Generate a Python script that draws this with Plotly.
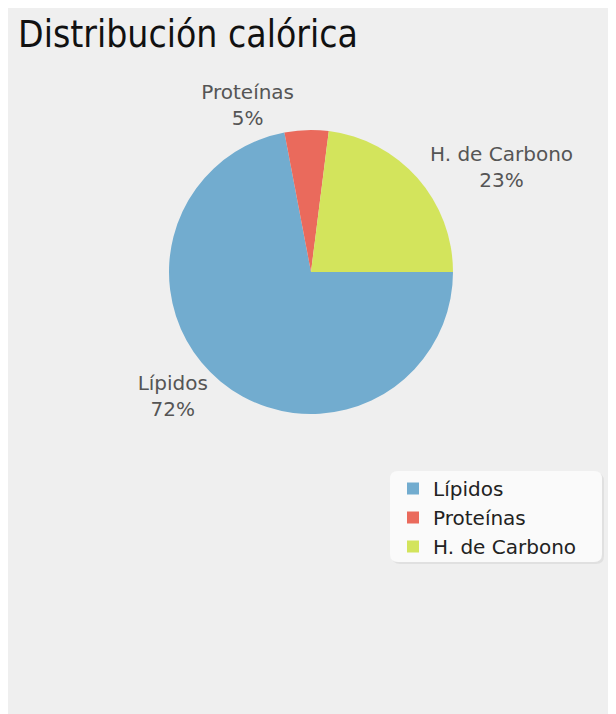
import plotly.graph_objects as go

labels = ["Lípidos", "Proteínas", "H. de Carbono"]
values = [72, 5, 23]
colors = ["#72accf", "#ea6a5c", "#d3e45c"]

W, H = 616, 714
OFF = 8  # page margin of the browser
cx, cy, r = 311 - OFF, 272 - OFF, 142

fig = go.Figure(go.Pie(
    labels=labels,
    values=values,
    sort=False,
    direction="clockwise",
    rotation=90,
    marker=dict(colors=colors, line=dict(width=0)),
    textposition="outside",
    texttemplate="%{label}<br>%{percent:.0%}",
    textfont=dict(family="DejaVu Sans", size=20, color="#555555"),
    domain=dict(x=[(cx - r) / W, (cx + r) / W], y=[1 - (cy + r) / H, 1 - (cy - r) / H]),
    hoverinfo="label+percent",
))


def rounded_box(x0, y0, x1, y1, rad):
    """Rounded rectangle path in paper coordinates from pixel box (top-left origin)."""
    px = lambda x: x / W
    py = lambda y: 1 - y / H
    return (f"M {px(x0 + rad)},{py(y0)} L {px(x1 - rad)},{py(y0)} "
            f"Q {px(x1)},{py(y0)} {px(x1)},{py(y0 + rad)} "
            f"L {px(x1)},{py(y1 - rad)} Q {px(x1)},{py(y1)} {px(x1 - rad)},{py(y1)} "
            f"L {px(x0 + rad)},{py(y1)} Q {px(x0)},{py(y1)} {px(x0)},{py(y1 - rad)} "
            f"L {px(x0)},{py(y0 + rad)} Q {px(x0)},{py(y0)} {px(x0 + rad)},{py(y0)} Z")


bx0, by0, bx1, by1 = 390 - OFF, 471 - OFF, 602 - OFF, 562 - OFF

fig.update_layout(
    width=W, height=H,
    margin=dict(l=0, r=0, t=0, b=0),
    paper_bgcolor="#efefef",
    font=dict(family="DejaVu Sans", color="#222222"),
    title=dict(text="Distribución calórica", x=(18 - OFF) / W, xanchor="left",
               y=1 - (34 - OFF) / H, yanchor="middle",
               font=dict(family="DejaVu Sans Condensed", size=37, color="#111111")),
    showlegend=True,
    legend=dict(x=(393 - OFF) / W, y=1 - (469 - OFF) / H, xanchor="left", yanchor="top",
                bgcolor="rgba(0,0,0,0)", borderwidth=0,
                font=dict(family="DejaVu Sans", size=20, color="#222222"),
                itemsizing="constant", tracegroupgap=0),
    shapes=[
        dict(type="path", xref="paper", yref="paper", layer="below",
             path=rounded_box(bx0 + 2, by0 + 2, bx1 + 2, by1 + 2, 8),
             fillcolor="rgba(0,0,0,0.06)", line=dict(width=0)),
        dict(type="path", xref="paper", yref="paper", layer="below",
             path=rounded_box(bx0, by0, bx1, by1, 8),
             fillcolor="#fafafa", line=dict(width=0)),
    ],
)

fig.write_html("out.html")
